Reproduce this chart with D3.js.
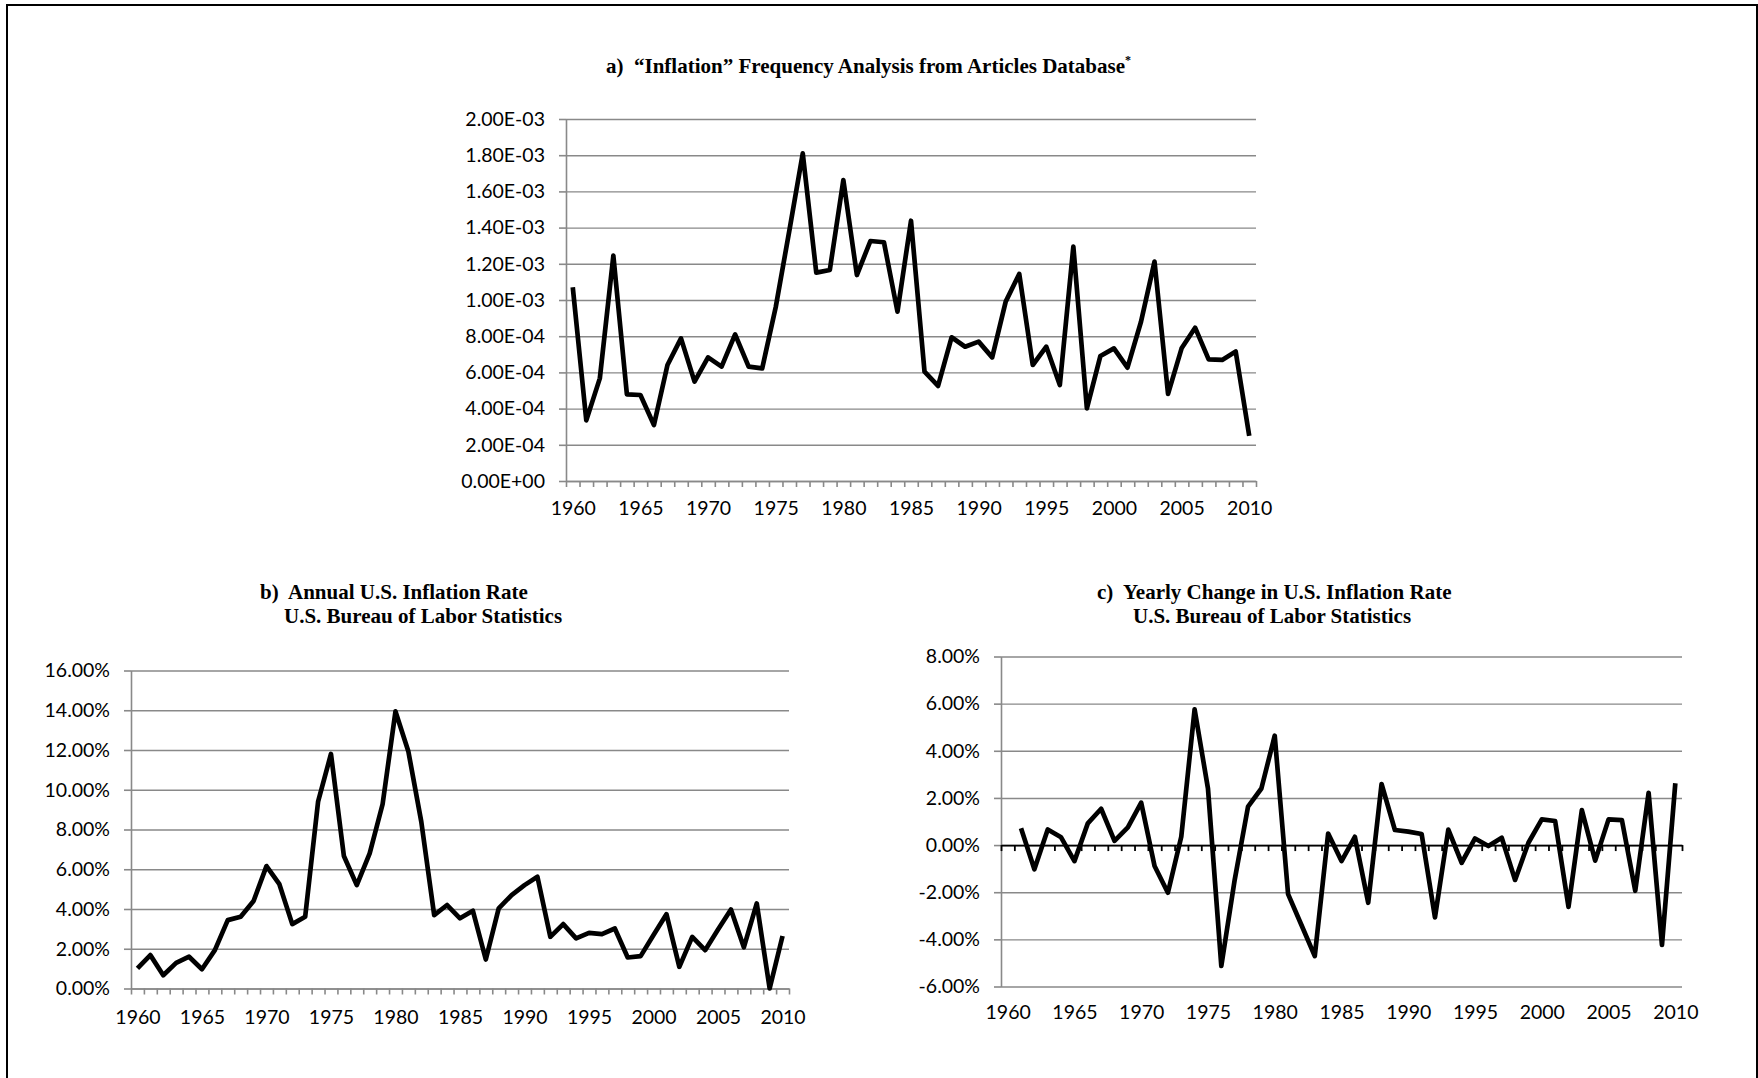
<!DOCTYPE html>
<html>
<head>
<meta charset="utf-8">
<script src="https://cdn.jsdelivr.net/npm/d3@7"></script>
<style>
  body { margin: 0; background: #fff; }
  .title { font-family: "Liberation Serif", "Times New Roman", serif; font-weight: bold; font-size: 21px; white-space: pre; fill: #000; }
  .tick text { font-family: Lato, "Noto Sans", sans-serif; font-size: 19.5px; fill: #000; }
</style>
</head>
<body>
<svg id="chart"></svg>
<script>
// Inflation charts: article frequency, annual rate, yearly change

var years = d3.range(1960, 2011);
var yearLabels = [1960, 1965, 1970, 1975, 1980, 1985, 1990, 1995, 2000, 2005, 2010];

// a) "Inflation" frequency in articles database
var articleFreq = [
  1.07e-3, 0.335e-3, 0.567e-3, 1.245e-3, 0.479e-3, 0.475e-3, 0.309e-3, 0.641e-3, 0.788e-3, 0.549e-3,
  0.683e-3, 0.632e-3, 0.810e-3, 0.632e-3, 0.622e-3, 0.96e-3, 1.38e-3, 1.81e-3, 1.151e-3, 1.166e-3,
  1.663e-3, 1.138e-3, 1.326e-3, 1.319e-3, 0.936e-3, 1.438e-3, 0.604e-3, 0.525e-3, 0.794e-3, 0.742e-3,
  0.770e-3, 0.683e-3, 0.991e-3, 1.144e-3, 0.641e-3, 0.742e-3, 0.530e-3, 1.295e-3, 0.401e-3, 0.691e-3,
  0.733e-3, 0.626e-3, 0.880e-3, 1.212e-3, 0.481e-3, 0.733e-3, 0.847e-3, 0.672e-3, 0.669e-3, 0.715e-3,
  0.249e-3
];

// b) annual U.S. inflation rate (%)
var inflationRate = [
  1.01, 1.68, 0.67, 1.29, 1.60, 0.97, 1.93, 3.44, 3.61, 4.40,
  6.16, 5.25, 3.24, 3.61, 9.40, 11.80, 6.67, 5.20, 6.80, 9.27,
  13.94, 11.92, 8.39, 3.69, 4.20, 3.53, 3.91, 1.46, 4.03, 4.70,
  5.20, 5.62, 2.60, 3.24, 2.52, 2.80, 2.74, 3.02, 1.56, 1.63,
  2.69, 3.74, 1.09, 2.60, 1.93, 2.97, 3.98, 2.07, 4.28, 0.00,
  2.64
];

// c) yearly change in inflation rate (%), no value for 1960
var inflationChange = [
  null, 0.71, -1.03, 0.66, 0.33, -0.68, 0.92, 1.54, 0.18, 0.75,
  1.80, -0.89, -2.02, 0.35, 5.76, 2.40, -5.13, -1.48, 1.63, 2.40,
  4.64, -2.08, -3.39, -4.71, 0.49, -0.68, 0.35, -2.45, 2.59, 0.64,
  0.57, 0.47, -3.07, 0.66, -0.75, 0.28, -0.04, 0.31, -1.48, 0.10,
  1.09, 1.02, -2.62, 1.48, -0.66, 1.09, 1.06, -1.94, 2.22, -4.24,
  2.62
];

var freqTicks = [0, 0.0002, 0.0004, 0.0006, 0.0008, 0.001, 0.0012, 0.0014, 0.0016, 0.0018, 0.002];
var rateTicks = [0, 2, 4, 6, 8, 10, 12, 14, 16];
var changeTicks = [-6, -4, -2, 0, 2, 4, 6, 8];

var svgWidth = 1758;
var svgHeight = 1078;
var gridColor = "#898989";

var svg = d3.select("#chart")
  .attr("width", svgWidth)
  .attr("height", svgHeight);

// page frame (bottom edge is cut off)
svg.append("path")
  .attr("d", "M7,1078V5H1757V1078")
  .attr("fill", "none")
  .attr("stroke", "#000")
  .attr("stroke-width", 2);

var sciFormat = d => d.toExponential(2).toUpperCase().replace(/E([+-])(\d)$/, "E$10$2");
var pctFormat = d => d.toFixed(2) + "%";

function drawChart(cfg) {
  var g = svg.append("g");

  var x = d3.scaleLinear().domain([1959.5, 2010.5]).range([cfg.left, cfg.right]);
  var y = d3.scaleLinear().domain(cfg.domain).range([cfg.bottom, cfg.top]);

  // gridlines
  g.append("g")
    .attr("transform", `translate(${cfg.left},0)`)
    .call(d3.axisLeft(y).tickValues(cfg.ticks).tickSize(-(cfg.right - cfg.left)).tickFormat(""))
    .call(a => a.select(".domain").remove())
    .selectAll("line")
    .attr("stroke", gridColor)
    .attr("stroke-width", 1.4);

  // y axis
  var yAxis = g.append("g")
    .attr("transform", `translate(${cfg.left},0)`)
    .call(d3.axisLeft(y).tickValues(cfg.ticks).tickSize(7).tickSizeOuter(0).tickPadding(14).tickFormat(cfg.format));
  yAxis.selectAll("line, path").attr("stroke", gridColor).attr("stroke-width", 1.6);

  // category axis (tick marks between years)
  var xAxis = g.append("g")
    .attr("transform", `translate(0,${y(cfg.base)})`)
    .call(d3.axisBottom(x).tickValues(d3.range(1959.5, 2011, 1)).tickSize(6).tickSizeOuter(0).tickFormat(""));
  xAxis.selectAll("line, path").attr("stroke", cfg.axisColor).attr("stroke-width", cfg.axisWidth);

  // year labels below the plot
  g.append("g")
    .attr("transform", `translate(0,${cfg.bottom})`)
    .call(d3.axisBottom(x).tickValues(yearLabels).tickSize(0).tickPadding(cfg.labelPad).tickFormat(d3.format("d")))
    .call(a => a.select(".domain").remove());

  // the series
  var line = d3.line()
    .defined(d => d[1] != null)
    .x(d => x(d[0]))
    .y(d => y(d[1]));

  g.append("path")
    .datum(years.map((yr, i) => [yr, cfg.values[i]]))
    .attr("d", line)
    .attr("fill", "none")
    .attr("stroke", "#000")
    .attr("stroke-width", 4.7)
    .attr("stroke-linejoin", "round");
}

drawChart({
  left: 566, right: 1256, top: 119, bottom: 481,
  domain: [0, 0.002], ticks: freqTicks, format: sciFormat,
  base: 0, axisColor: gridColor, axisWidth: 1.6, labelPad: 20,
  values: articleFreq
});

drawChart({
  left: 131, right: 789, top: 670.5, bottom: 988.5,
  domain: [0, 16], ticks: rateTicks, format: pctFormat,
  base: 0, axisColor: gridColor, axisWidth: 1.6, labelPad: 22,
  values: inflationRate
});

drawChart({
  left: 1001, right: 1682, top: 656.5, bottom: 986.5,
  domain: [-6, 8], ticks: changeTicks, format: pctFormat,
  base: 0, axisColor: "#000", axisWidth: 1.8, labelPad: 19,
  values: inflationChange
});

// titles
var titleA = svg.append("text").attr("class", "title").attr("x", 606).attr("y", 73);
titleA.append("tspan").text("a)  \u201cInflation\u201d Frequency Analysis from Articles Database");
titleA.append("tspan").attr("dy", -9).attr("font-size", 12).text("*");

svg.append("text").attr("class", "title").attr("x", 260).attr("y", 599)
  .text("b)  Annual U.S. Inflation Rate");
svg.append("text").attr("class", "title").attr("x", 284).attr("y", 623)
  .text("U.S. Bureau of Labor Statistics");

svg.append("text").attr("class", "title").attr("x", 1097).attr("y", 599)
  .text("c)  Yearly Change in U.S. Inflation Rate");
svg.append("text").attr("class", "title").attr("x", 1133).attr("y", 623)
  .text("U.S. Bureau of Labor Statistics");
</script>
</body>
</html>
